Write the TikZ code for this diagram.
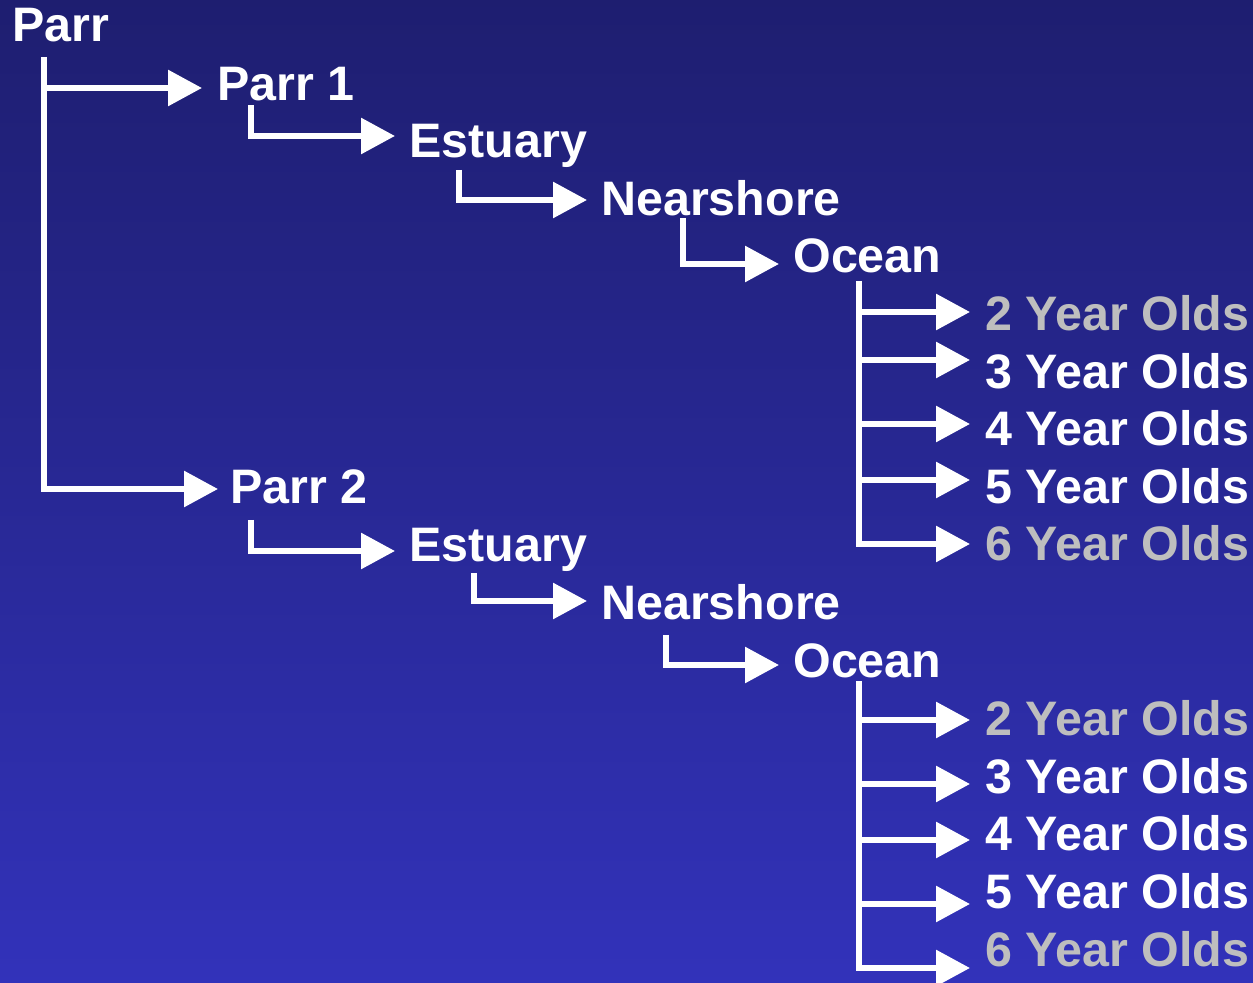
\documentclass[tikz,border=0pt]{standalone}
\usepackage{fontspec}
\setmainfont{Liberation Sans}
\usetikzlibrary{arrows.meta}
\definecolor{bgtop}{RGB}{30,30,112}
\definecolor{bgbot}{RGB}{50,50,186}
\definecolor{dim}{RGB}{190,190,190}
\tikzset{
  lbl/.style={anchor=base west, inner sep=0pt, text=white, font=\fontsize{24.2}{28}\selectfont\bfseries},
  dimlbl/.style={lbl, text=dim},
  conn/.style={draw=white, line width=3pt, line join=miter,
    -{Triangle[length=17pt,width=17.5pt]}},
  bar/.style={draw=white, line width=3pt}
}
\begin{document}
\begin{tikzpicture}[x=0.5pt,y=-0.5pt]
\shade[top color=bgtop, bottom color=bgbot] (0,0) rectangle (1253,983);
\useasboundingbox (0,0) rectangle (1253,983);

% labels
\node[lbl] (parr) at (12,42) {Parr};
\node[lbl] (p1) at (217,101) {Parr 1};
\node[lbl] (e1) at (409,158) {Estuary};
\node[lbl] (n1) at (601,216) {Nearshore};
\node[lbl] (o1) at (793,273) {Ocean};
\node[dimlbl] (a2) at (985,331) {2 Year Olds};
\node[lbl] (a3) at (985,389) {3 Year Olds};
\node[lbl] (a4) at (985,446) {4 Year Olds};
\node[lbl] (a5) at (985,504) {5 Year Olds};
\node[dimlbl] (a6) at (985,561) {6 Year Olds};
\node[lbl] (p2) at (230,504) {Parr 2};
\node[lbl] (e2) at (409,562) {Estuary};
\node[lbl] (n2) at (601,620) {Nearshore};
\node[lbl] (o2) at (793,677) {Ocean};
\node[dimlbl] (b2) at (985,735) {2 Year Olds};
\node[lbl] (b3) at (985,793) {3 Year Olds};
\node[lbl] (b4) at (985,850) {4 Year Olds};
\node[lbl] (b5) at (985,908) {5 Year Olds};
\node[dimlbl] (b6) at (985,966) {6 Year Olds};

% connector anchors
\coordinate (s0) at (44,57);
\coordinate (j0) at (44,88);
\coordinate (t1) at (202,88);
\coordinate (t2) at (218,489);
\coordinate (s1) at (251,105);  \coordinate (te1) at (395,136);
\coordinate (s2) at (459,170);  \coordinate (tn1) at (587,200);
\coordinate (s3) at (683,218);  \coordinate (to1) at (779,264);
\coordinate (s4) at (859,281);
\coordinate (s5) at (251,520);  \coordinate (te2) at (395,551);
\coordinate (s6) at (474,573);  \coordinate (tn2) at (587,601);
\coordinate (s7) at (666,635);  \coordinate (to2) at (779,665);
\coordinate (s8) at (859,681);

\draw[conn] (s0) |- (t2);
\draw[conn] (j0) -- (t1);
\draw[conn] (s1) |- (te1);
\draw[conn] (s2) |- (tn1);
\draw[conn] (s3) |- (to1);
\draw[conn] (s5) |- (te2);
\draw[conn] (s6) |- (tn2);
\draw[conn] (s7) |- (to2);

\draw[conn] (s4) |- (970,544);
\foreach \y in {312,360,424,480} \draw[conn] (859,\y) -- (970,\y);
\draw[conn] (s8) |- (970,968);
\foreach \y in {720,784,840,904} \draw[conn] (859,\y) -- (970,\y);
\end{tikzpicture}
\end{document}
